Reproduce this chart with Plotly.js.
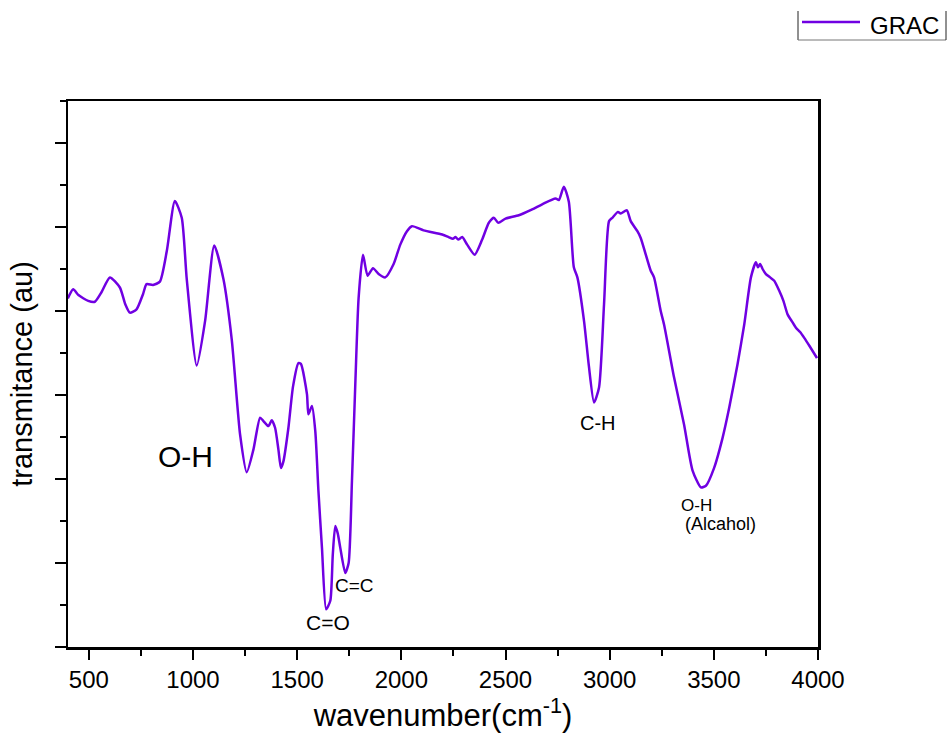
<!DOCTYPE html>
<html>
<head>
<meta charset="utf-8">
<script src="https://cdn.plot.ly/plotly-3.0.1.min.js"></script>
<style>html,body{margin:0;padding:0;background:#fff;}#chart{width:950px;height:733px;}</style>
</head>
<body>
<div id="chart"></div>
<script>
const wavenumber = [399,425,450,497,529,560,601,649,675,697,729,760,777,808,841,874,913,946,970,1018,1058,1102,1146,1186,1226,1258,1290,1322,1338,1362,1378,1394,1410,1422,1434,1458,1480,1506,1518,1547,1554,1571,1587,1602,1619,1639,1659,1671,1683,1695,1707,1731,1747,1763,1780,1795,1816,1838,1864,1891,1923,1963,1995,2027,2051,2107,2196,2227,2247,2260,2273,2292,2316,2352,2388,2420,2444,2465,2500,2564,2628,2676,2740,2756,2780,2804,2828,2845,2877,2900,2925,2949,2973,2997,3013,3040,3053,3082,3101,3133,3149,3197,3213,3245,3261,3309,3357,3398,3438,3462,3501,3542,3574,3614,3646,3678,3702,3712,3722,3734,3750,3770,3790,3814,3834,3854,3874,3894,3914,3934,3960,3995];
const transmittance = [41.5,42.6,41.9,41.2,41.1,42.2,44.0,42.8,40.8,39.8,40.2,42.0,43.2,43.1,43.5,47.1,53.1,51.1,43.8,33.5,38.8,47.8,43.8,36.6,25.3,20.8,23.5,27.3,26.9,26.3,27.0,26.1,23.5,21.3,22.1,26.1,31.0,33.8,33.7,30.1,27.7,28.7,25.7,18.6,11.8,4.5,5.5,11.0,14.4,13.5,11.8,8.8,10.0,19.8,32.0,41.6,46.7,44.2,45.1,44.4,44.0,45.6,47.9,49.5,50.1,49.6,49.1,48.8,48.6,48.8,48.5,48.8,47.9,46.7,48.5,50.5,51.1,50.5,51.0,51.4,52.1,52.7,53.4,53.2,54.8,53.0,45.2,44.0,38.8,33.5,29.1,30.9,40.8,50.7,51.1,51.8,51.6,52.0,50.7,49.5,48.7,44.8,44.0,40.0,38.4,32.1,26.5,21.0,19.0,19.2,21.3,24.9,28.5,33.7,38.4,44.0,45.8,45.2,45.6,45.0,44.4,44.0,43.6,42.4,41.2,39.6,38.8,38.0,37.5,36.8,35.8,34.4];
const seriesName = 'GRAC';
const labelText = ['O-H','C=O','C=C','C-H','O-H','(Alcahol)'];
const labelX = [964,1646,1775,2944,3419,3534];
const labelY = [22.7,2.9,7.3,26.7,16.8,14.6];
const labelSize = [30,21,19,20,17,18];

const font = 'Arial, "Liberation Sans", sans-serif';
const lineColor = '#7000E2';
const trace = {
  x: wavenumber, y: transmittance, type: 'scatter', mode: 'lines', name: seriesName,
  line: {color: lineColor, width: 2.5, shape: 'spline', smoothing: 0.6},
  showlegend: false
};
const annotations = labelText.map((t, i) => ({
  x: labelX[i], y: labelY[i], xref: 'x', yref: 'y', text: t, showarrow: false,
  font: {family: font, size: labelSize[i], color: '#000'}
}));
// legend key (drawn as a boxed key in the top-right corner)
const W = 750, H = 546, L = 68, B = 647;
const px = v => (v - L) / W, py = v => (B - v) / H;
annotations.push({xref: 'paper', yref: 'paper', x: px(868), y: py(25), xanchor: 'left', yanchor: 'middle',
  text: seriesName, showarrow: false, font: {family: font, size: 24, color: '#000'}});
const shapes = [
  {type: 'line', xref: 'paper', yref: 'paper', x0: px(802), x1: px(860), y0: py(22), y1: py(22), line: {color: lineColor, width: 2.5}},
  {type: 'line', xref: 'paper', yref: 'paper', x0: px(798), x1: px(798), y0: py(11), y1: py(40), line: {color: '#222', width: 1}},
  {type: 'line', xref: 'paper', yref: 'paper', x0: px(798), x1: px(946), y0: py(40), y1: py(40), line: {color: '#777', width: 1}},
  {type: 'line', xref: 'paper', yref: 'paper', x0: px(946), x1: px(946), y0: py(11), y1: py(40), line: {color: '#222', width: 1}}
];
const layout = {
  width: 950, height: 733,
  margin: {l: 68, r: 132, t: 101, b: 86, autoexpand: false},
  paper_bgcolor: '#fff', plot_bgcolor: '#fff',
  font: {family: font, color: '#000'},
  showlegend: false,
  xaxis: {
    range: [400, 4000], showgrid: false, zeroline: false,
    showline: true, linecolor: '#000', linewidth: 2.5, mirror: true,
    ticks: 'outside', ticklen: 10, tickwidth: 2, tickcolor: '#000',
    dtick: 500, tick0: 0,
    minor: {dtick: 250, ticks: 'outside', ticklen: 6, tickwidth: 2, tickcolor: '#000', showgrid: false},
    tickfont: {family: font, size: 24, color: '#000'},
    title: {text: 'wavenumber(cm<sup>-1</sup>)', standoff: 14, font: {family: font, size: 31, color: '#000'}}
  },
  yaxis: {
    range: [0, 65], showgrid: false, zeroline: false,
    showline: true, linecolor: '#000', linewidth: 2.5, mirror: true,
    ticks: 'outside', ticklen: 11, tickwidth: 2, tickcolor: '#000',
    dtick: 10, tick0: 0, showticklabels: false,
    minor: {dtick: 5, ticks: 'outside', ticklen: 6, tickwidth: 2, tickcolor: '#000', showgrid: false},
    title: {text: 'transmitance (au)', standoff: 14, font: {family: font, size: 29, color: '#000'}}
  },
  annotations: annotations,
  shapes: shapes
};
Plotly.newPlot('chart', [trace], layout, {displayModeBar: false, staticPlot: true});
</script>
</body>
</html>
